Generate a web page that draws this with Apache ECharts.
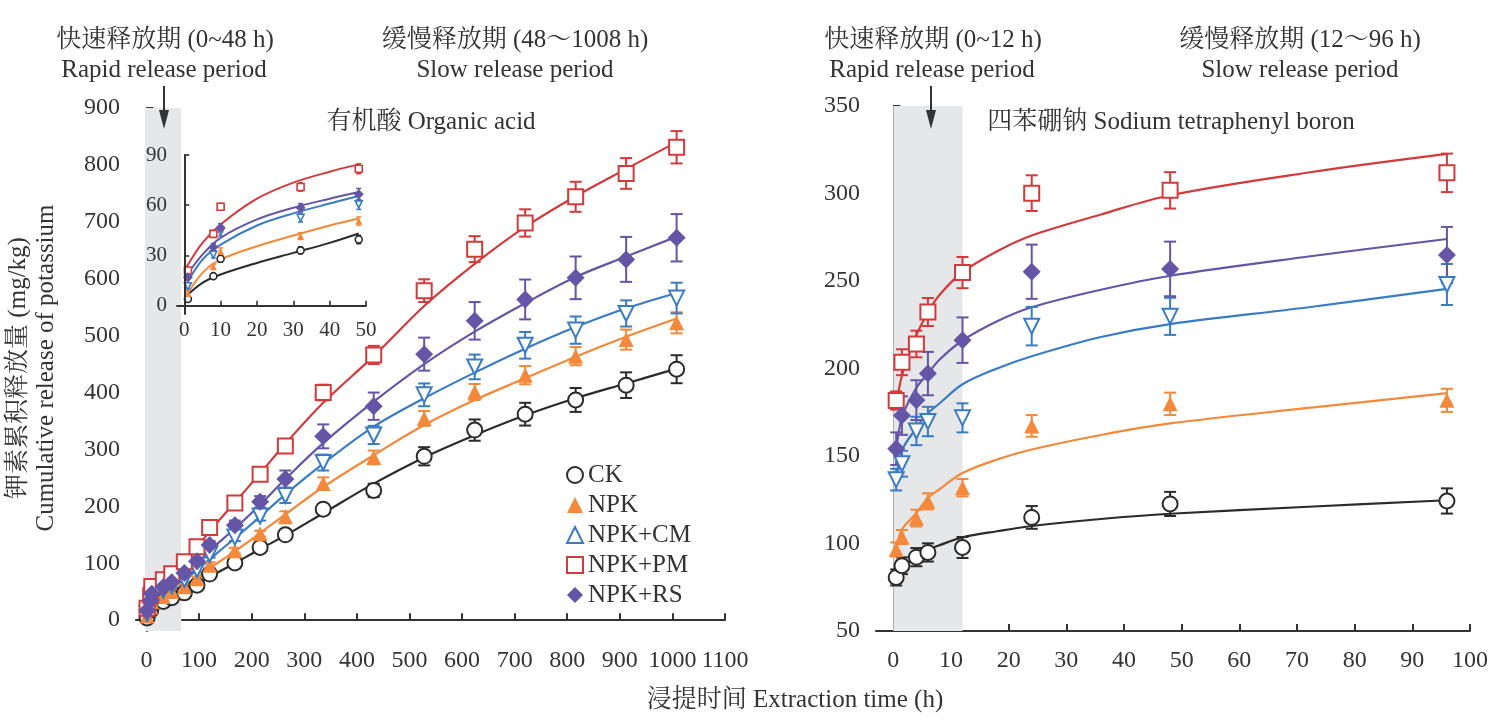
<!DOCTYPE html>
<html><head><meta charset="utf-8">
<script src="https://cdn.jsdelivr.net/npm/echarts@6/dist/echarts.min.js"></script>
<style>html,body{margin:0;padding:0;background:#fff}#c{width:1494px;height:721px}</style>
</head><body><div id="c"></div>
<script>
const FONT = "'Liberation Serif','Times New Roman','Noto Serif CJK SC','Noto Sans CJK SC',serif";
const TXT = '#333';
const seriesNames = ['CK', 'NPK', 'NPK+CM', 'NPK+PM', 'NPK+RS'];
const seriesColors = ['#2b2b2b', '#f4883b', '#3a7bc5', '#d33a3c', '#6455a6'];
const seriesSymbols = ['circle', 'triangle', 'triangle', 'rect', 'diamond'];
const seriesRotate = [0, 0, 180, 0, 0];
const seriesHollow = [true, false, true, true, false];

// ---- Organic acid (left panel) ----
const oaTime = [1, 8, 10, 32, 48, 72, 96, 120, 168, 216, 264, 336, 432, 528, 624, 720, 816, 912, 1008];
const oaCK = [4, 17.6, 28, 33, 39.5, 48, 61.5, 81, 100.7, 127.8, 150, 195, 228, 288, 334, 362, 387, 413, 441];
const oaCKErr = [1.5, 1.5, 2, 2, 2.5, 4, 4, 4, 5, 5, 6, 9, 11.7, 16, 18.7, 20, 21, 22.5, 24.6];
const oaNPK = [7.2, 23.2, 32.5, 41.5, 50.5, 58.6, 73, 96.7, 122, 152, 181.6, 240, 286, 354.5, 401, 430.6, 464, 493, 522.5];
const oaNPKErr = [1.5, 1.5, 2, 2, 2.5, 4, 4, 5, 5, 5, 9.7, 11, 12, 13, 14, 16, 16, 17.6, 18.5];
const oaCM = [11.6, 30.5, 44.1, 52.5, 60.5, 71.5, 89, 116, 146, 183, 219, 277, 325.5, 396, 445, 483, 509.7, 539, 566];
const oaCMErr = [1.5, 2, 2.5, 2.5, 3, 5, 5, 6, 7, 8, 13, 14, 16, 20, 21.7, 23.4, 24, 23, 27];
const oaPM = [21, 42.9, 59.1, 70.9, 81.8, 102.5, 129, 163, 206, 256.6, 306, 400, 466, 579, 652, 698, 744, 785, 831];
const oaPMErr = [1.5, 2, 2, 2.5, 3, 5, 6, 6, 6, 6, 7, 13.8, 16, 20, 22.8, 24, 26.4, 27, 28.4];
const oaRS = [17, 35.1, 46.5, 58.5, 66.5, 83, 103.7, 132, 167, 208, 248, 323, 376, 467.5, 526, 563.6, 601.6, 634, 672];
const oaRSErr = [1.5, 2, 2.5, 2.5, 3.5, 5, 6, 7, 8, 10, 15, 21, 24, 29, 33, 35, 37.5, 39.5, 41.6];

const oaFitTime = [1, 10, 24, 48, 72, 96, 120, 168, 216, 264, 336, 432, 528, 624, 720, 816, 912, 1008];
const oaFitCK = [6, 19, 29, 42, 52, 63, 76, 100, 125, 149, 188, 240, 286, 325, 360, 390, 416, 442];
const oaFitNPK = [6, 27, 38, 52, 60, 74, 91, 121, 153, 186, 234, 290, 343, 387, 425, 463, 498, 530];
const oaFitCM = [13, 36, 51, 65, 72, 88, 107, 144, 182, 221, 275, 340, 390, 435, 477, 515, 548, 575];
const oaFitPM = [21, 48, 66, 84, 104, 128, 156, 207, 258, 310, 382, 464, 552, 626, 691, 745, 793, 840];
const oaFitRS = [17, 40, 55, 68, 82, 99, 122, 161, 203, 248, 311, 384, 450, 507, 557, 603, 639, 674];

// ---- inset (0-48 h) ----
const insetTime = [1, 8, 10, 32, 48];
const insetFitTime = [0.5, 5, 10, 20, 30, 40, 48];
const insetFitCK = [5.6, 13.6, 18.6, 25.5, 31.5, 37.5, 43.1];
const insetFitNPK = [5.6, 19.6, 27.5, 35.5, 41.9, 47.9, 52.1];
const insetFitCM = [12.6, 27.5, 36.5, 47.9, 55.1, 61, 65.5];
const insetFitPM = [22.6, 37.5, 48.5, 63.9, 73.5, 80, 84.4];
const insetFitRS = [17.6, 30.5, 40.5, 51.5, 58.5, 63.9, 67.9];

// ---- Sodium tetraphenyl boron (right panel) ----
const stbTime = [0.5, 1.5, 4, 6, 12, 24, 48, 96];
const stbCK = [80.6, 87.3, 92.2, 94.9, 97.7, 114.9, 122.6, 124.3];
const stbCKErr = [4.6, 4.8, 5.2, 5.2, 6, 6.5, 6.9, 7.2];
const stbNPK = [96.6, 103.7, 114.5, 124.1, 131.9, 167.2, 179.8, 181.8];
const stbNPKErr = [4, 4, 4.8, 4.6, 5, 6.2, 6.4, 6.6];
const stbCM = [136.5, 145.6, 164.3, 169.7, 171.8, 224.2, 229.8, 248];
const stbCMErr = [6.2, 7.4, 8.1, 8.4, 8.3, 11, 10.6, 11.7];
const stbPM = [181.7, 203.6, 214, 232.3, 254.8, 300.2, 301.8, 311.8];
const stbPMErr = [5.2, 7.4, 7.6, 8, 8.9, 10.2, 10.4, 11];
const stbRS = [154.2, 173.1, 181.9, 197.1, 216.2, 255.3, 256.9, 264.9];
const stbRSErr = [9.3, 11, 11.4, 12.4, 13, 15.5, 15.6, 16];

const stbFitTime = [0.5, 1.5, 4, 6, 8, 12, 18, 24, 36, 48, 72, 96];
const stbFitCK = [79, 86, 92.6, 96.4, 99, 103.5, 107, 110, 114, 117, 121, 124.7];
const stbFitNPK = [97, 108, 117.4, 126, 131, 140.3, 148, 153.7, 162, 168.6, 177.5, 185.9];
const stbFitCM = [135, 153, 166, 174.6, 180, 191, 200, 207, 218, 225.4, 235, 245.5];
const stbFitPM = [178, 196, 219, 232, 242, 255, 267, 276, 288, 299, 312, 322.6];
const stbFitRS = [152, 172, 189, 197, 205, 216, 227, 235, 245, 253, 264, 274];

// tick labels
const oaXTicks = [0, 100, 200, 300, 400, 500, 600, 700, 800, 900, 1000, 1100];
const oaYTicks = [0, 100, 200, 300, 400, 500, 600, 700, 800, 900];
const insetXTicks = [0, 10, 20, 30, 40, 50];
const insetYTicks = [0, 30, 60, 90];
const stbXTicks = [0, 10, 20, 30, 40, 50, 60, 70, 80, 90, 100];

// shaded rapid-release bands
const oaBand = [-3, 66];
const stbBand = [0, 12];

const oaVals = [oaCK, oaNPK, oaCM, oaPM, oaRS];
const oaErrs = [oaCKErr, oaNPKErr, oaCMErr, oaPMErr, oaRSErr];
const oaFits = [oaFitCK, oaFitNPK, oaFitCM, oaFitPM, oaFitRS];
const insetFits = [insetFitCK, insetFitNPK, insetFitCM, insetFitPM, insetFitRS];
const stbVals = [stbCK, stbNPK, stbCM, stbPM, stbRS];
const stbErrs = [stbCKErr, stbNPKErr, stbCMErr, stbPMErr, stbRSErr];
const stbFits = [stbFitCK, stbFitNPK, stbFitCM, stbFitPM, stbFitRS];

function errRender(color, cap, width) {
  return function (params, api) {
    const x = api.value(0), y = api.value(1), e = api.value(2);
    const t = api.coord([x, y + e]);
    const b = api.coord([x, y - e]);
    const st = { stroke: color, lineWidth: width, fill: null };
    return {
      type: 'group', children: [
        { type: 'line', shape: { x1: t[0], y1: t[1], x2: b[0], y2: b[1] }, style: st },
        { type: 'line', shape: { x1: t[0] - cap, y1: t[1], x2: t[0] + cap, y2: t[1] }, style: st },
        { type: 'line', shape: { x1: b[0] - cap, y1: b[1], x2: b[0] + cap, y2: b[1] }, style: st }
      ]
    };
  };
}

const series = [];
function addPanel(axisIdx, times, vals, errs, fitTimes, fits, cfg) {
  for (let k = 0; k < 5; k++) {
    const c = seriesColors[k];
    const line = {
      type: 'line', name: seriesNames[k] + ' fit',
      xAxisIndex: axisIdx, yAxisIndex: axisIdx,
      data: fitTimes.map((t, i) => [t, fits[k][i]]),
      showSymbol: false, symbol: 'none', smooth: 0.35,
      lineStyle: { color: c, width: cfg.lw }, z: 2, silent: true
    };
    if (k === 0 && cfg.band) {
      line.z = 1;
      line.markArea = {
        silent: true,
        itemStyle: { color: '#e6e7e9' },
        data: [[{ xAxis: cfg.band[0] }, { xAxis: cfg.band[1] }]]
      };
    }
    series.push(line);
    series.push({
      type: 'custom', name: seriesNames[k] + ' err',
      xAxisIndex: axisIdx, yAxisIndex: axisIdx,
      data: times.map((t, i) => [t, vals[k][i], errs[k][i]]),
      renderItem: errRender(c, cfg.cap, cfg.ew),
      encode: { x: 0, y: 1 }, z: 3, silent: true
    });
    series.push({
      type: 'scatter', name: seriesNames[k],
      xAxisIndex: axisIdx, yAxisIndex: axisIdx,
      data: times.map((t, i) => [t, vals[k][i]]),
      symbol: seriesSymbols[k], symbolRotate: seriesRotate[k],
      symbolSize: seriesSymbols[k] === 'diamond' ? cfg.size + 3 : cfg.size,
      itemStyle: seriesHollow[k]
        ? { color: '#fff', borderColor: c, borderWidth: cfg.bw, opacity: 1 }
        : { color: c, borderColor: c, borderWidth: 0, opacity: 1 },
      z: 4, silent: true
    });
  }
}

addPanel(0, oaTime, oaVals, oaErrs, oaFitTime, oaFits, { lw: 2.2, cap: 6, ew: 2, size: 15, bw: 2, band: oaBand });
addPanel(1, stbTime, stbVals, stbErrs, stbFitTime, stbFits, { lw: 2.2, cap: 6, ew: 2, size: 15, bw: 2, band: stbBand });
const insetVals = oaVals.map(v => v.slice(0, insetTime.length));
const insetErrs = oaErrs.map(v => v.slice(0, insetTime.length));
addPanel(2, insetTime, insetVals, insetErrs, insetFitTime, insetFits, { lw: 2, cap: 2.5, ew: 1.5, size: 7, bw: 1.6 });

function axis(gridIndex, min, max, ticks, labelSize, margin, tickLen, tickW, z) {
  const a = {
    type: 'value', gridIndex, min, max, z: z,
    axisLine: { show: true, lineStyle: { color: '#333', width: 2 } },
    axisTick: { show: true, inside: true, length: tickLen, lineStyle: { color: '#333', width: tickW } },
    axisLabel: {
      show: true, color: TXT, fontFamily: FONT, fontSize: labelSize, margin: margin,
      showMinLabel: true, showMaxLabel: true, hideOverlap: false,
      formatter: v => String(v)
    },
    splitLine: { show: false }
  };
  if (ticks) {
    a.axisTick.customValues = ticks;
    a.axisLabel.customValues = ticks;
  }
  return a;
}

const graphics = [];
function txt(x, y, text, size, rot) {
  const g = {
    type: 'text', x, y,
    style: { text, font: size + 'px ' + FONT, fill: TXT, textAlign: 'center', textVerticalAlign: 'middle' },
    z: 100
  };
  if (rot) g.rotation = rot;
  graphics.push(g);
}
function arrow(x) {
  graphics.push({ type: 'line', shape: { x1: x, y1: 86, x2: x, y2: 115 }, style: { stroke: '#333', lineWidth: 2 }, z: 100 });
  graphics.push({ type: 'polygon', shape: { points: [[x - 5, 110], [x + 5, 110], [x, 129]] }, style: { fill: '#333' }, z: 100 });
}
txt(165, 40, '快速释放期 (0~48 h)', 25);
txt(164, 70, 'Rapid release period', 25);
txt(515, 40, '缓慢释放期 (48～1008 h)', 25);
txt(515, 70, 'Slow release period', 25);
txt(431, 122, '有机酸 Organic acid', 25);
txt(933, 40, '快速释放期 (0~12 h)', 25);
txt(932, 70, 'Rapid release period', 25);
txt(1300, 40, '缓慢释放期 (12～96 h)', 25);
txt(1300, 70, 'Slow release period', 25);
txt(1171, 122, '四苯硼钠 Sodium tetraphenyl boron', 25);
txt(795, 700, '浸提时间 Extraction time (h)', 25);
txt(18, 368, '钾素累积释放量 (mg/kg)', 25, Math.PI / 2);
txt(46, 368, 'Cumulative release of potassium', 25, Math.PI / 2);
arrow(164);
arrow(931);

const stbYAxis = axis(1, 50, 350, null, 24, 16, 7, 2, 0);
stbYAxis.interval = 50;

const option = {
  backgroundColor: '#fff',
  animation: false,
  grid: [
    { left: 136, top: 108, width: 589, height: 523, outerBoundsMode: 'none' },
    { left: 876, top: 106, width: 594, height: 525, outerBoundsMode: 'none' },
    { left: 177, top: 155, width: 189, height: 159, outerBoundsMode: 'none' }
  ],
  xAxis: [
    axis(0, -20, 1100, oaXTicks, 24, 18, 7, 2, 0),
    axis(1, -3, 100, stbXTicks, 24, 18, 7, 2, 0),
    axis(2, -2, 50, insetXTicks, 21, 6, 5, 1.6, 10)
  ],
  yAxis: [
    axis(0, -19, 900, oaYTicks, 24, 16, 7, 2, 0),
    stbYAxis,
    axis(2, -5, 90, insetYTicks, 21, 10, 5, 1.6, 10)
  ],
  legend: {
    orient: 'vertical', left: 561, top: 457,
    itemWidth: 16, itemHeight: 16, itemGap: 4,
    data: seriesNames,
    textStyle: { color: TXT, fontFamily: FONT, fontSize: 25, lineHeight: 26 },
    selectedMode: false
  },
  graphic: graphics,
  series
};

const chart = echarts.init(document.getElementById('c'));
chart.setOption(option);
</script>
</body></html>
